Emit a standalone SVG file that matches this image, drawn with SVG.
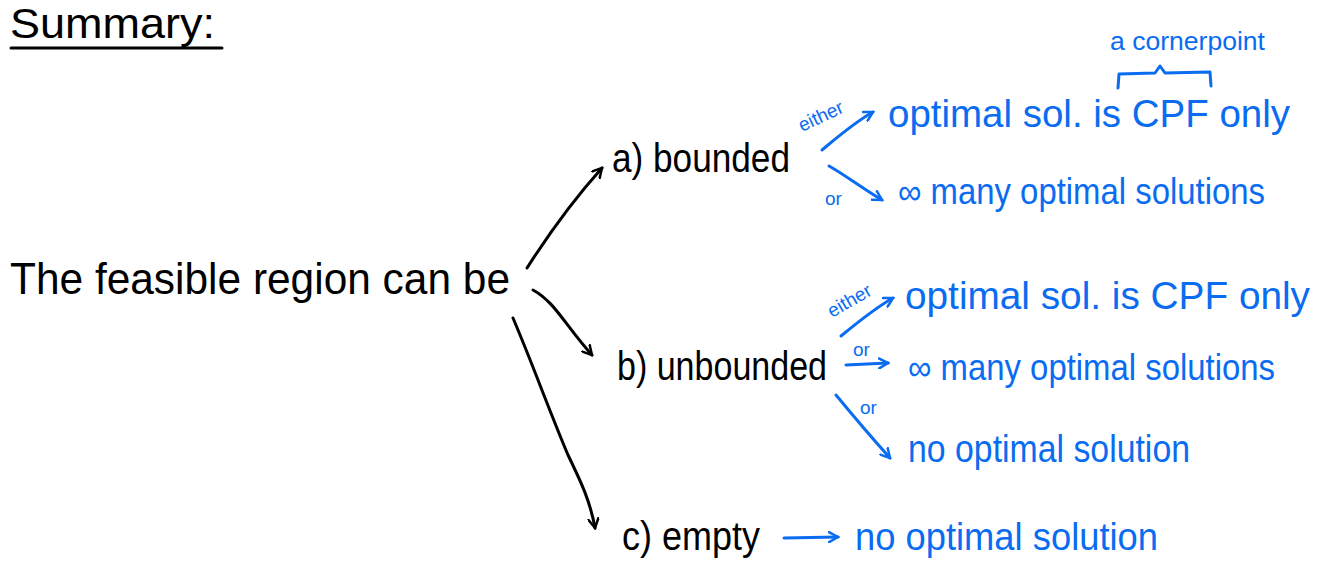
<svg xmlns="http://www.w3.org/2000/svg" width="1318" height="569" viewBox="0 0 1318 569">
<defs>
<style>
.k{font-family:"Liberation Sans","DejaVu Sans",sans-serif;fill:#000}
.b{font-family:"Liberation Sans","DejaVu Sans",sans-serif;fill:#0a6cf0}
.lk{fill:none;stroke:#000;stroke-width:3;stroke-linecap:round;stroke-linejoin:round}
.lb{fill:none;stroke:#0a6cf0;stroke-width:3;stroke-linecap:round;stroke-linejoin:round}
</style>
<marker id="ak" viewBox="0 0 12 12" refX="10" refY="6" markerWidth="12" markerHeight="12" markerUnits="userSpaceOnUse" orient="auto"><path d="M1,1 L10,6 L1,11" fill="none" stroke="#000" stroke-width="2.5" stroke-linecap="round"/></marker>
<marker id="ab" viewBox="0 0 12 12" refX="10" refY="6" markerWidth="12" markerHeight="12" markerUnits="userSpaceOnUse" orient="auto"><path d="M1,1 L10,6 L1,11" fill="none" stroke="#0a6cf0" stroke-width="2.5" stroke-linecap="round"/></marker>
</defs>
<rect width="1318" height="569" fill="#fff"/>
<g id="title">
<text class="k" x="10" y="38" font-size="42" textLength="205" lengthAdjust="spacingAndGlyphs">Summary:</text>
<line class="lk" x1="11" y1="48" x2="222" y2="48"/>
</g>
<g id="root"><text class="k" x="10" y="294" font-size="44" textLength="500" lengthAdjust="spacingAndGlyphs">The feasible region can be</text></g>
<g id="bounded"><text class="k" x="612" y="172" font-size="40" textLength="178" lengthAdjust="spacingAndGlyphs">a)  bounded</text></g>
<g id="unbounded"><text class="k" x="617" y="380" font-size="40" textLength="210" lengthAdjust="spacingAndGlyphs">b)  unbounded</text></g>
<g id="empty"><text class="k" x="622" y="550" font-size="40" textLength="138" lengthAdjust="spacingAndGlyphs">c)  empty</text></g>
<g id="a-cpf">
<text class="b" x="888" y="127" font-size="38" textLength="402" lengthAdjust="spacingAndGlyphs">optimal sol. is CPF only</text>
<path class="lb" d="M1118,88 L1119,74 L1155,73 L1160,66 L1165,73 L1210,72 L1211,86"/>
<text class="b" x="1110" y="50" font-size="26" textLength="155" lengthAdjust="spacingAndGlyphs">a cornerpoint</text>
</g>
<g id="a-many"><text class="b" x="898" y="204" font-size="36" textLength="367" lengthAdjust="spacingAndGlyphs">∞ many optimal solutions</text></g>
<g id="b-cpf"><text class="b" x="905" y="309" font-size="38" textLength="405" lengthAdjust="spacingAndGlyphs">optimal sol. is CPF only</text></g>
<g id="b-many"><text class="b" x="908" y="380" font-size="36" textLength="367" lengthAdjust="spacingAndGlyphs">∞ many optimal solutions</text></g>
<g id="b-none"><text class="b" x="908" y="462" font-size="38" textLength="282" lengthAdjust="spacingAndGlyphs">no optimal solution</text></g>
<g id="c-none"><text class="b" x="855" y="550" font-size="38" textLength="303" lengthAdjust="spacingAndGlyphs">no optimal solution</text></g>
<g id="connectors">
<path class="lk" d="M527,268 C550,232 575,198 602,168" marker-end="url(#ak)"/>
<path class="lk" d="M533,290 C555,302 565,325 592,355" marker-end="url(#ak)"/>
<path class="lk" d="M513,318 C535,370 545,400 568,455 C580,480 590,500 595,528" marker-end="url(#ak)"/>
<path class="lb" d="M822,150 C840,135 855,122 873,112" marker-end="url(#ab)"/>
<text class="b" x="802" y="132" font-size="19" transform="rotate(-25 802 132)">either</text>
<path class="lb" d="M829,166 C845,175 862,188 882,200" marker-end="url(#ab)"/>
<text class="b" x="825" y="205" font-size="19">or</text>
<path class="lb" d="M841,336 C858,322 875,308 893,298" marker-end="url(#ab)"/>
<text class="b" x="832" y="318" font-size="19" transform="rotate(-30 832 318)">either</text>
<path class="lb" d="M846,365 L888,363" marker-end="url(#ab)"/>
<text class="b" x="853" y="356" font-size="19">or</text>
<path class="lb" d="M836,395 C855,418 872,438 890,458" marker-end="url(#ab)"/>
<text class="b" x="860" y="414" font-size="19">or</text>
<path class="lb" d="M784,538 L838,537" marker-end="url(#ab)"/>
</g>
</svg>
